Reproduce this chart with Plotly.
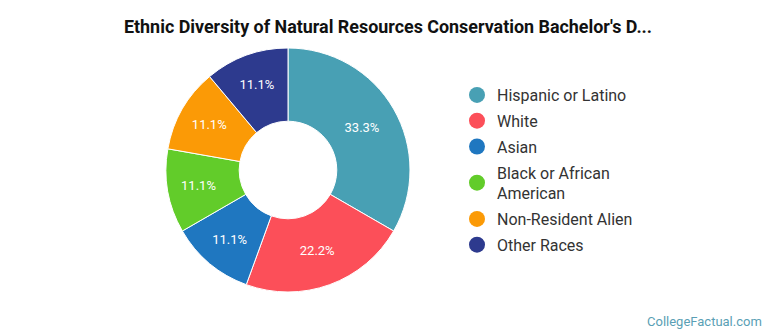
import plotly.graph_objects as go

labels = ["Hispanic or Latino", "White", "Asian", "Black or African American", "Non-Resident Alien", "Other Races"]
legend_labels = ["Hispanic or Latino", "White", "Asian", "Black or African<br>American", "Non-Resident Alien", "Other Races"]
values = [3, 2, 1, 1, 1, 1]
colors = ["#48a0b4", "#fc4f59", "#1f77c0", "#62cc2a", "#fb9a06", "#2d3a8e"]

W, H = 770, 335
cx, cy, r = 288, 170, 122

fig = go.Figure()
fig.add_trace(go.Pie(
    labels=labels, values=values, sort=False, direction="clockwise", rotation=0,
    hole=0.4, marker=dict(colors=colors, line=dict(color="white", width=1)),
    textinfo="percent", texttemplate="%{percent:.1%}", textposition="inside",
    insidetextorientation="horizontal",
    textfont=dict(color="white", size=13, family="Roboto"),
    showlegend=False, hoverinfo="label+percent",
    domain=dict(x=[(cx - r) / W, (cx + r) / W], y=[1 - (cy + r) / H, 1 - (cy - r) / H]),
))
for i, (lab, col) in enumerate(zip(legend_labels, colors)):
    fig.add_trace(go.Scatter(
        x=[None], y=[None], mode="markers", name=lab,
        marker=dict(color=col, size=16, symbol="circle"),
        legendgroup=str(i), showlegend=True,
    ))

fig.update_layout(
    width=W, height=H, margin=dict(l=0, r=0, t=0, b=0),
    paper_bgcolor="white", plot_bgcolor="white",
    font=dict(family="Roboto", color="#333333"),
    title=dict(text="<b>Ethnic Diversity of Natural Resources Conservation Bachelor's D...</b>",
               x=388 / W, xanchor="center", y=1 - 27 / H, yanchor="middle",
               font=dict(size=17.9, family="Roboto", color="#111111")),
    xaxis=dict(visible=False), yaxis=dict(visible=False),
    legend=dict(x=457 / W, xanchor="left", y=1 - 78 / H, yanchor="top",
                font=dict(size=16, family="Roboto", color="#333333"),
                tracegroupgap=2, itemsizing="trace", itemwidth=30, bgcolor="rgba(0,0,0,0)"),
    annotations=[dict(text="CollegeFactual.com", x=764 / W, y=1 - 321 / H, xref="paper", yref="paper",
                      xanchor="right", yanchor="middle", showarrow=False,
                      font=dict(size=13, family="Roboto", color="#5a9fb5"))],
)
fig.write_html("out.html")
